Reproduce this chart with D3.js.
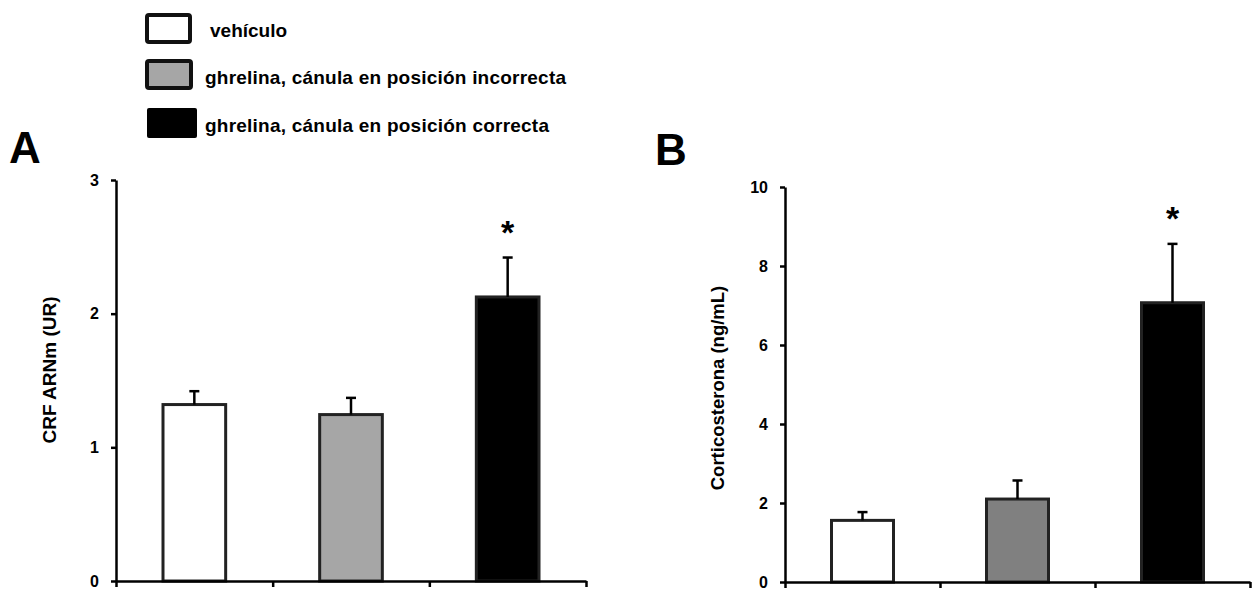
<!DOCTYPE html>
<html>
<head>
<meta charset="utf-8">
<script src="https://cdn.jsdelivr.net/npm/d3@7"></script>
<style>
  html, body { margin: 0; padding: 0; background: #fff; }
  svg { display: block; font-family: "Liberation Sans", Arial, sans-serif; font-weight: bold; }
</style>
</head>
<body>
<svg id="chart" width="1252" height="590"></svg>
<script>
// ---- data ----
const groups = ["vehículo", "ghrelina, cánula en posición incorrecta", "ghrelina, cánula en posición correcta"];
const crfMean = [1.32, 1.245, 2.125];
const crfErr  = [0.10, 0.125, 0.295];
const corMean = [1.56, 2.10, 7.07];
const corErr  = [0.21, 0.47, 1.49];
const crfTicks = [0, 1, 2, 3];
const corTicks = [0, 2, 4, 6, 8, 10];
const crfSig = [false, false, true];
const corSig = [false, false, true];
const crfLabel = "CRF ARNm (UR)";
const corLabel = "Corticosterona (ng/mL)";

const fillsA = ["#ffffff", "#a6a6a6", "#000000"];
const fillsB = ["#ffffff", "#808080", "#000000"];

const svg = d3.select("#chart");

// ---- legend ----
const legendFills = ["#ffffff", "#a6a6a6", "#000000"];
const legendBoxes = [
  {x: 147, y: 15, w: 43, h: 27, stroke: "#111", sw: 4},
  {x: 147, y: 61, w: 44, h: 27, stroke: "#111", sw: 4},
  {x: 147, y: 108, w: 50, h: 30, stroke: "none", sw: 0}
];
const legendText = [{x: 210, y: 37, len: null}, {x: 205, y: 84, len: 361}, {x: 205, y: 132, len: 344}];
const lg = svg.append("g");
groups.forEach((g, i) => {
  const b = legendBoxes[i];
  lg.append("rect").attr("x", b.x).attr("y", b.y).attr("width", b.w).attr("height", b.h)
    .attr("rx", 2).attr("fill", legendFills[i]).attr("stroke", b.stroke).attr("stroke-width", b.sw);
  const t = lg.append("text").attr("x", legendText[i].x).attr("y", legendText[i].y)
    .attr("font-size", 19).attr("fill", "#000").text(g);
  if (legendText[i].len) t.attr("textLength", legendText[i].len).attr("lengthAdjust", "spacing");
});

// ---- panel drawer ----
function panel(opt) {
  const x = d3.scaleBand().domain(groups).range([opt.x0, opt.x1]).padding(0);
  const xb = d3.scaleLinear().domain([0, groups.length]).range([opt.x0, opt.x1]);
  const y = d3.scaleLinear().domain([0, opt.max]).range([opt.y0, opt.y1]);
  const g = svg.append("g");

  // letter
  g.append("text").attr("x", opt.lx).attr("y", opt.ly).attr("font-size", 44).text(opt.letter);

  // bars
  const bw = x.bandwidth() * 0.4;
  g.selectAll("rect.bar").data(opt.mean).join("rect").attr("class", "bar")
    .attr("x", (d, i) => x(groups[i]) + (x.bandwidth() - bw) / 2)
    .attr("width", bw)
    .attr("y", d => y(d))
    .attr("height", d => y(0) - y(d))
    .attr("fill", (d, i) => opt.fills[i])
    .attr("stroke", "#222").attr("stroke-width", 3);

  // error bars
  const cx = i => x(groups[i]) + x.bandwidth() / 2;
  g.selectAll("line.err").data(opt.mean).join("line").attr("class", "err")
    .attr("x1", (d, i) => cx(i)).attr("x2", (d, i) => cx(i))
    .attr("y1", d => y(d)).attr("y2", (d, i) => y(d + opt.err[i]))
    .attr("stroke", "#000").attr("stroke-width", 2.5);
  g.selectAll("line.cap").data(opt.mean).join("line").attr("class", "cap")
    .attr("x1", (d, i) => cx(i) - 5).attr("x2", (d, i) => cx(i) + 5)
    .attr("y1", (d, i) => y(d + opt.err[i])).attr("y2", (d, i) => y(d + opt.err[i]))
    .attr("stroke", "#000").attr("stroke-width", 2.5);

  // significance
  opt.sig.forEach((s, i) => {
    if (!s) return;
    g.append("text").attr("x", cx(i)).attr("y", y(opt.mean[i] + opt.err[i]) - opt.astOff)
      .attr("text-anchor", "middle").attr("font-size", 34).text("*");
  });

  // y axis
  const ya = g.append("g").attr("transform", `translate(${opt.x0},0)`)
    .call(d3.axisLeft(y).tickValues(opt.ticks).tickSize(5).tickSizeOuter(0).tickPadding(12).tickFormat(d3.format("d")));
  ya.selectAll("path, line").attr("stroke", "#000").attr("stroke-width", 2.5);
  ya.selectAll("text").attr("font-size", 16).attr("font-weight", "bold")
    .attr("font-family", "Liberation Sans, Arial, sans-serif").attr("fill", "#000");

  // x axis
  const xa = g.append("g").attr("transform", `translate(0,${opt.y0})`)
    .call(d3.axisBottom(xb).tickValues(d3.range(groups.length + 1)).tickSize(6).tickSizeOuter(0).tickFormat(""));
  xa.selectAll("path, line").attr("stroke", "#000").attr("stroke-width", 2.5);

  // y label
  g.append("text").attr("transform", `translate(${opt.labX},${opt.labY}) rotate(-90)`)
    .attr("text-anchor", "middle").attr("font-size", opt.labSize).text(opt.label);
}

panel({letter: "A", lx: 9, ly: 163, x0: 116, x1: 586, y0: 581, y1: 180, max: 3,
  mean: crfMean, err: crfErr, sig: crfSig, ticks: crfTicks, fills: fillsA,
  label: crfLabel, labX: 56, labY: 370, labSize: 19, astOff: 14});
panel({letter: "B", lx: 655, ly: 165, x0: 785, x1: 1250, y0: 582, y1: 187, max: 10,
  mean: corMean, err: corErr, sig: corSig, ticks: corTicks, fills: fillsB,
  label: corLabel, labX: 724, labY: 388, labSize: 18.5, astOff: 14});
</script>
</body>
</html>
